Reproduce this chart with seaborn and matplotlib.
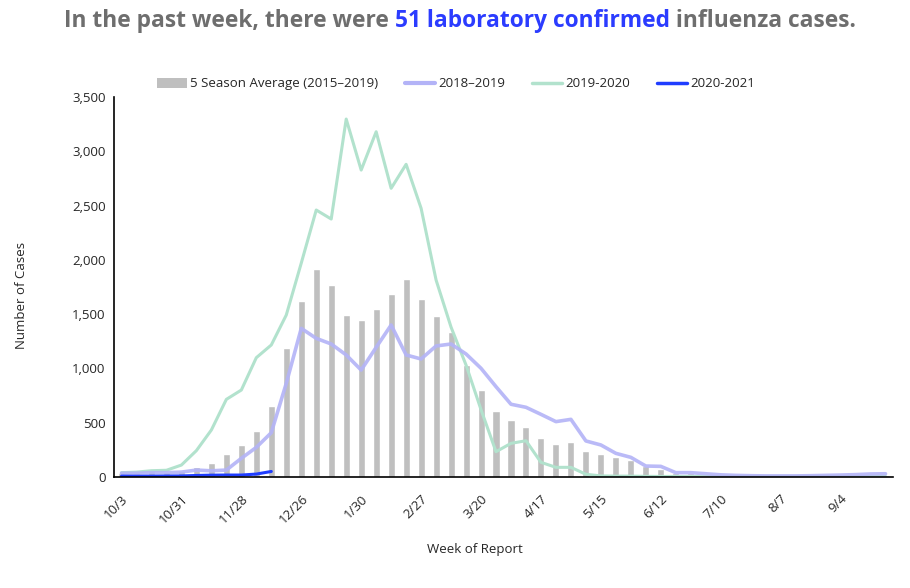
import numpy as np
import pandas as pd
import matplotlib
matplotlib.use("Agg")
import matplotlib.pyplot as plt
import seaborn as sns
from matplotlib.patches import Patch
from matplotlib.lines import Line2D

# ---- data ----
tick_labels = ["10/3", "10/31", "11/28", "12/26", "1/30", "2/27", "3/20",
               "4/17", "5/15", "6/12", "7/10", "8/7", "9/4"]
avg_5season = [40, 45, 58, 50, 55, 92, 132, 212, 295, 427,
               654, 1188, 1624, 1913, 1765, 1492, 1443, 1547, 1688, 1823,
               1636, 1483, 1333, 1029, 801, 611, 525, 460, 362, 304,
               319, 243, 212, 184, 160, 105, 74, 40, 35, 25,
               20, 15, 12, 10, 10, 10, 10, 10, 12, 15, 15, 15]
s2018_2019 = [35, 35, 40, 40, 45, 64, 57, 64, 172, 273,
              408, 863, 1369, 1277, 1225, 1124, 985, 1194, 1400, 1124,
              1087, 1207, 1225, 1133, 1001, 832, 670, 642, 577, 510,
              531, 332, 295, 218, 181, 101, 98, 40, 40, 30,
              20, 15, 12, 10, 10, 10, 12, 15, 18, 22, 28, 30]
s2019_2020 = [40, 45, 58, 62, 110, 243, 433, 715, 801, 1099,
              1216, 1492, 1970, 2459, 2376, 3297, 2827, 3180, 2659, 2880,
              2475, 1814, 1380, 1031, 620, 233, 310, 334, 135, 89,
              89, 25, 10, 8, 8, 6, 5, 5, 5, 5,
              5, 5, 5, 5, 5, 5, 5, 5, 5, 5, 5, 5]
s2020_2021 = [8, 7, 8, 9, 10, 14, 17, 18, 18, 27, 51]

weeks = list(range(len(avg_5season)))
df_bar = pd.DataFrame({"week": weeks, "cases": avg_5season})
df_1819 = pd.DataFrame({"week": weeks, "cases": s2018_2019})
df_1920 = pd.DataFrame({"week": weeks, "cases": s2019_2020})
df_2021 = pd.DataFrame({"week": list(range(len(s2020_2021))), "cases": s2020_2021})

c_bar = "#bfbfbf"
c_1819 = "#b3b3f7"
c_1920 = "#b2e2cd"
c_2021 = "#1f3dff"
txt_font = "Open Sans"

sns.set_style("white")
plt.rcParams["font.family"] = [txt_font, "DejaVu Sans"]

fig = plt.figure(figsize=(9.1, 5.88), dpi=100)
ax = fig.add_axes([114 / 910, 1 - 477 / 588, (893 - 114) / 910, (477 - 97) / 588])

sns.barplot(data=df_bar, x="week", y="cases", color=c_bar, width=0.47,
            saturation=1, ax=ax, order=weeks)
sns.lineplot(data=df_1920, x="week", y="cases", color=c_1920, linewidth=2.2, ax=ax)
sns.lineplot(data=df_1819, x="week", y="cases", color=c_1819, linewidth=2.6, alpha=0.9, ax=ax)
sns.lineplot(data=df_2021, x="week", y="cases", color=c_2021, linewidth=2.2, ax=ax)

ax.set_xlim(-0.5, len(weeks) - 0.5)
ax.set_ylim(0, 3500)
ax.set_yticks(np.arange(0, 3501, 500))
ax.set_yticklabels([f"{v:,}" for v in range(0, 3501, 500)], fontsize=9.5)
ax.set_xticks(list(range(0, len(weeks), 4))[:len(tick_labels)])
ax.set_xticklabels(tick_labels, rotation=45, ha="right", rotation_mode="anchor", fontsize=9.5)
ax.tick_params(axis="both", length=0, pad=6)
ax.tick_params(axis="x", pad=11)
for s in ["top", "right"]:
    ax.spines[s].set_visible(False)
for s in ["left", "bottom"]:
    ax.spines[s].set_color("black")
    ax.spines[s].set_linewidth(1.2)
ax.set_xlabel("")
ax.set_ylabel("")
fig.text(22 / 910, 1 - 295 / 588, "Number of Cases", rotation=90, ha="center", va="center", fontsize=9.5)
fig.text(475 / 910, 1 - 550 / 588, "Week of Report", ha="center", va="center", fontsize=9.5)

handles = [Patch(facecolor=c_bar, edgecolor="none"),
           Line2D([0], [0], color=c_1819, linewidth=3),
           Line2D([0], [0], color=c_1920, linewidth=2.5),
           Line2D([0], [0], color=c_2021, linewidth=2.5)]
labels = ["5 Season Average (2015\u20132019)", "2018\u20132019", "2019-2020", "2020-2021"]
fig.legend(handles, labels, loc="center", bbox_to_anchor=(456 / 910, 1 - 84 / 588), ncol=4,
           frameon=False, fontsize=9.5, handlelength=2.3, handleheight=0.8,
           columnspacing=2.0, handletextpad=0.25)

# ---- multi-coloured title ----
parts = [("In the past week, there were ", "#6e6e6e"),
         ("51 laboratory confirmed", "#2b3cff"),
         (" influenza cases.", "#6e6e6e")]
renderer = fig.canvas.get_renderer()
tsize = 16.4
texts = []
widths = []
for s, c in parts:
    t = fig.text(0, 0, s, color=c, fontsize=tsize, fontweight="bold", va="center", ha="left")
    texts.append(t)
    widths.append(t.get_window_extent(renderer=renderer).width)
total = sum(widths)
x0 = 460 - total / 2
ty = 1 - 21 / 588
for t, w in zip(texts, widths):
    t.set_position((x0 / 910, ty))
    x0 += w

fig.savefig("out.png", dpi=100)
